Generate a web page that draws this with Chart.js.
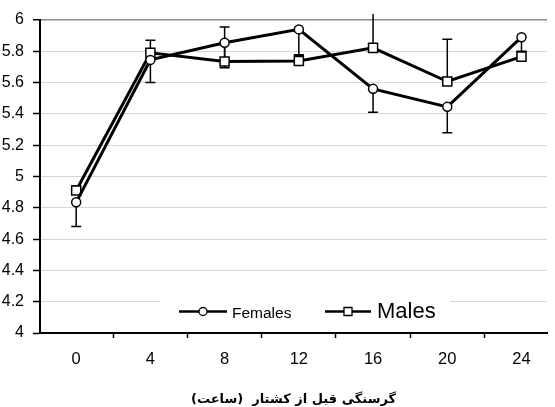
<!DOCTYPE html>
<html>
<head>
<meta charset="utf-8">
<script src="https://cdn.jsdelivr.net/npm/chart.js@4"></script>
<style>
html,body{margin:0;padding:0;background:#fff;}
#wrap{width:555px;height:407px;position:relative;}
</style>
</head>
<body>
<div id="wrap"><canvas id="c"></canvas></div>
<script>
// ---- data ----
const hours = [0, 4, 8, 12, 16, 20, 24];
const hourLabels = ['0', '4', '8', '12', '16', '20', '24'];
const femalesMean = [4.835, 5.745, 5.855, 5.94, 5.56, 5.445, 5.89];
const femalesErrMinus = [0.155, 0.145, 0.16, 0.165, 0.15, 0.165, 0.09];
const malesMean = [4.91, 5.79, 5.735, 5.738, 5.822, 5.607, 5.766];
const malesErrPlus = [0.03, 0.08, 0.22, 0.04, 0.35, 0.27, 0.03];
const yTickValues = [4, 4.2, 4.4, 4.6, 4.8, 5, 5.2, 5.4, 5.6, 5.8, 6];
const yTickLabels = ['4', '4.2', '4.4', '4.6', '4.8', '5', '5.2', '5.4', '5.6', '5.8', '6'];
const seriesNames = ['Females', 'Males'];
const xTitle = 'گرسنگی قبل از کشتار  (ساعت)';

const FONT = "'Liberation Sans', Arial, sans-serif";

const errorBars = {
  id: 'errorBars',
  beforeDatasetsDraw(chart) {
    const {ctx, chartArea, scales} = chart;
    const sets = [
      {mean: femalesMean, minus: femalesErrMinus, plus: null},
      {mean: malesMean, minus: null, plus: malesErrPlus}
    ];
    ctx.save();
    ctx.beginPath();
    ctx.rect(chartArea.left, chartArea.top - 6, chartArea.right - chartArea.left, chartArea.bottom - chartArea.top + 6);
    ctx.clip();
    ctx.strokeStyle = '#000';
    ctx.lineWidth = 1.5;
    sets.forEach(s => {
      s.mean.forEach((m, i) => {
        const x = scales.x.getPixelForValue(hours[i]);
        const y0 = scales.y.getPixelForValue(m);
        const ends = [];
        if (s.minus) ends.push(scales.y.getPixelForValue(m - s.minus[i]));
        if (s.plus) ends.push(scales.y.getPixelForValue(m + s.plus[i]));
        ends.forEach(ye => {
          ctx.beginPath();
          ctx.moveTo(x, y0); ctx.lineTo(x, ye);
          ctx.moveTo(x - 5, ye); ctx.lineTo(x + 5, ye);
          ctx.stroke();
        });
      });
    });
    ctx.restore();
  }
};

const innerLegend = {
  id: 'innerLegend',
  afterDatasetsDraw(chart) {
    const {ctx, chartArea} = chart;
    const L = chartArea.left, B = chartArea.bottom;
    ctx.save();
    ctx.fillStyle = '#fff';
    ctx.fillRect(L + 120, B - 44, 290, 43);
    const items = [
      {ds: chart.data.datasets[0], x0: L + 139, x1: L + 187, tx: L + 192, size: 15.5},
      {ds: chart.data.datasets[1], x0: L + 285, x1: L + 331, tx: L + 337, size: 22}
    ];
    const yl = B - 21.5;
    items.forEach(it => {
      ctx.strokeStyle = '#000';
      ctx.lineWidth = 2.5;
      ctx.beginPath(); ctx.moveTo(it.x0, yl); ctx.lineTo(it.x1, yl); ctx.stroke();
      const cx = (it.x0 + it.x1) / 2;
      ctx.fillStyle = '#fff';
      ctx.lineWidth = 1.3;
      ctx.beginPath();
      if (it.ds.pointStyle === 'circle') {
        ctx.arc(cx, yl, 4, 0, Math.PI * 2);
      } else {
        ctx.rect(cx - 4, yl - 4, 8, 8);
      }
      ctx.fill(); ctx.stroke();
      ctx.fillStyle = '#000';
      ctx.font = it.size + 'px ' + FONT;
      ctx.textBaseline = 'alphabetic';
      ctx.textAlign = 'left';
      ctx.fillText(it.ds.label, it.tx, B - 15);
    });
    ctx.restore();
  }
};

new Chart(document.getElementById('c'), {
  type: 'line',
  data: {
    datasets: [
      {
        label: seriesNames[0],
        data: hours.map((h, i) => ({x: h, y: femalesMean[i]})),
        borderColor: '#000', borderWidth: 3,
        pointStyle: 'circle', pointRadius: 4.5,
        pointBackgroundColor: '#fff', pointBorderColor: '#000', pointBorderWidth: 1.5,
        tension: 0, fill: false
      },
      {
        label: seriesNames[1],
        data: hours.map((h, i) => ({x: h, y: malesMean[i]})),
        borderColor: '#000', borderWidth: 3,
        pointStyle: 'rect', pointRadius: 6.4,
        pointBackgroundColor: '#fff', pointBorderColor: '#000', pointBorderWidth: 1.5,
        tension: 0, fill: false
      }
    ]
  },
  options: {
    responsive: true,
    maintainAspectRatio: false,
    animation: false,
    layout: {padding: {top: 20, right: 2, left: 0, bottom: 0}},
    plugins: {legend: {display: false}, tooltip: {enabled: false}},
    scales: {
      x: {
        type: 'linear',
        min: -1.95, max: 25.38,
        afterBuildTicks: s => { s.ticks = hours.map(h => ({value: h})); },
        afterFit: s => { s.height = 74; },
        ticks: {
          callback: (v, i) => hourLabels[i],
          font: {family: FONT, size: 16.5},
          color: '#000', padding: 12, maxRotation: 0, autoSkip: false
        },
        grid: {offset: true, drawOnChartArea: false, tickLength: 5, tickColor: '#000', tickWidth: 1.5},
        border: {color: '#000', width: 2},
        title: {
          display: true, text: xTitle, color: '#000',
          font: {family: "'DejaVu Sans', sans-serif", size: 13, weight: 'bold', lineHeight: 1},
          padding: {top: 0, bottom: 1}
        }
      },
      y: {
        min: 4, max: 6,
        afterBuildTicks: s => { s.ticks = yTickValues.map(v => ({value: v})); },
        afterFit: s => { s.width = 40; },
        ticks: {
          callback: (v, i) => yTickLabels[i],
          font: {family: FONT, size: 16},
          color: '#000', padding: 9
        },
        grid: {
          color: c => (c.tick && c.tick.value === 6) ? '#8c8c8c' : '#d6d6d6',
          lineWidth: c => (c.tick && c.tick.value === 6) ? 1.5 : 1,
          tickLength: 7, tickColor: '#000', tickWidth: 1.5
        },
        border: {color: '#000', width: 2}
      }
    }
  },
  plugins: [errorBars, innerLegend]
});
</script>
</body>
</html>
